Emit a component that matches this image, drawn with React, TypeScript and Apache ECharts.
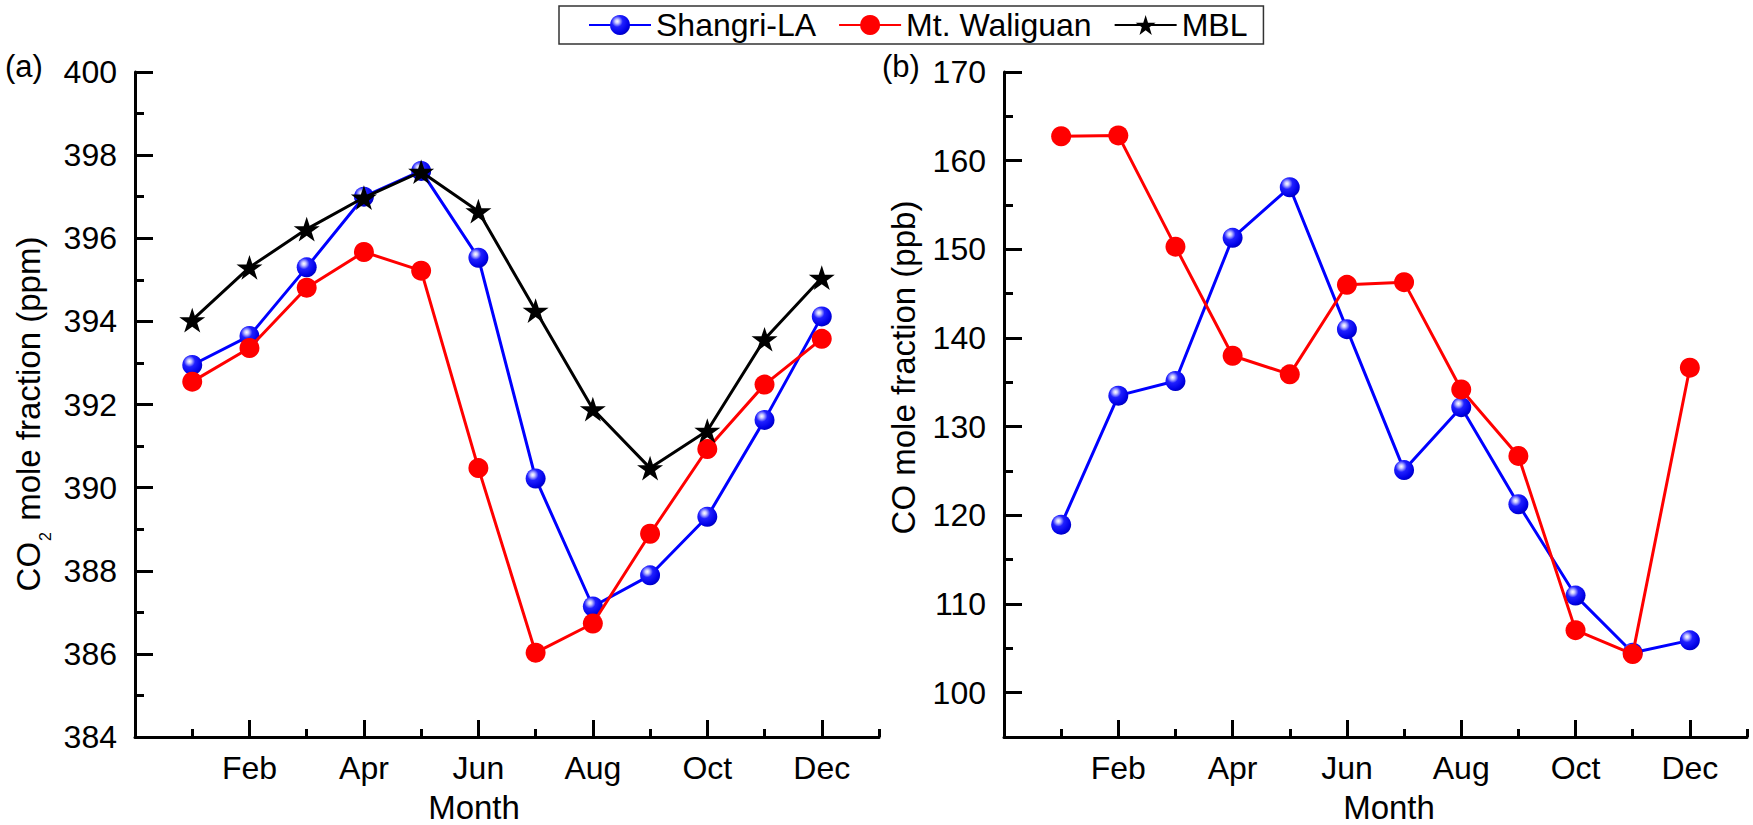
import React, { useEffect, useRef } from 'react';
import * as echarts from 'echarts';

// ---------- data ----------
const monthTicks = ['', 'Jan', 'Feb', 'Mar', 'Apr', 'May', 'Jun', 'Jul', 'Aug', 'Sep', 'Oct', 'Nov', 'Dec', ''];
const months = [1, 2, 3, 4, 5, 6, 7, 8, 9, 10, 11, 12];
const seriesNames = ['Shangri-LA', 'Mt. Waliguan', 'MBL'];

const co2Shangri = [392.95, 393.65, 395.3, 397.0, 397.62, 395.53, 390.22, 387.14, 387.89, 389.3, 391.63, 394.12];
const co2Waliguan = [392.55, 393.36, 394.81, 395.67, 395.22, 390.47, 386.03, 386.73, 388.89, 390.93, 392.48, 393.58];
const co2MBL = [394.03, 395.3, 396.22, 396.98, 397.6, 396.65, 394.26, 391.89, 390.47, 391.37, 393.57, 395.05];

const coShangri = [118.95, 133.5, 135.15, 151.3, 157.0, 141.0, 125.1, 132.2, 121.25, 110.95, 104.5, 105.9];
const coWaliguan = [162.75, 162.85, 150.3, 138.0, 135.9, 146.0, 146.3, 134.2, 126.7, 107.05, 104.35, 136.65];

const co2Min = 384;
const co2Max = 400;
const coMin = 95;
const coMax = 170;

// ---------- helpers ----------
const FONT = "'Liberation Sans', Arial, Helvetica, sans-serif";
const STAR =
  'path://M50,0 L61.23,34.55 L97.55,34.55 L68.17,55.9 L79.39,90.45 L50,69.1 L20.61,90.45 L31.83,55.9 L2.45,34.55 L38.77,34.55 Z';

const pairs = (vals: number[]) => months.map((m, i) => [m, vals[i]]);

const blk = { color: '#000', width: 3 };

function mainX(g: number) {
  return {
    type: 'category',
    gridIndex: g,
    data: monthTicks,
    boundaryGap: false,
    position: 'bottom',
    axisLine: { show: true, onZero: false, lineStyle: blk },
    axisTick: {
      show: true,
      inside: true,
      length: 17,
      interval: (i: number) => i % 2 === 0 && i < 13,
      lineStyle: blk,
    },
    axisLabel: {
      interval: (i: number) => i % 2 === 0,
      margin: 15,
      color: '#000',
      fontSize: 32,
      fontFamily: FONT,
    },
    splitLine: { show: false },
  };
}

function minorX(g: number) {
  return {
    type: 'category',
    gridIndex: g,
    data: monthTicks,
    boundaryGap: false,
    position: 'bottom',
    axisLine: { show: false, onZero: false },
    axisTick: { show: true, inside: true, length: 8, interval: 0, lineStyle: blk },
    axisLabel: { show: false },
    splitLine: { show: false },
  };
}

export default function App() {
  const ref = useRef<HTMLDivElement>(null);

  useEffect(() => {
    document.body.style.margin = '0';
    if (!ref.current) return;
    const chart = echarts.init(ref.current, undefined, { renderer: 'svg' });

    const sphere = new echarts.graphic.RadialGradient(0.36, 0.32, 0.7, [
      { offset: 0, color: '#ffffff' },
      { offset: 0.14, color: '#c8c8ff' },
      { offset: 0.4, color: '#2020ff' },
      { offset: 0.85, color: '#0000e6' },
      { offset: 1, color: '#0000c0' },
    ]);

    const blueS = (x: number, y: number, vals: number[]) => ({
      name: seriesNames[0],
      type: 'line',
      xAxisIndex: x,
      yAxisIndex: y,
      data: pairs(vals),
      symbol: 'circle',
      symbolSize: 20,
      lineStyle: { color: '#0000ff', width: 3 },
      itemStyle: { color: sphere, borderWidth: 0 },
      z: 2,
    });
    const redS = (x: number, y: number, vals: number[]) => ({
      name: seriesNames[1],
      type: 'line',
      xAxisIndex: x,
      yAxisIndex: y,
      data: pairs(vals),
      symbol: 'circle',
      symbolSize: 20,
      lineStyle: { color: '#ff0000', width: 3 },
      itemStyle: { color: '#ff0000', borderWidth: 0 },
      z: 3,
    });
    const mblS = (x: number, y: number, vals: number[]) => ({
      name: seriesNames[2],
      type: 'line',
      xAxisIndex: x,
      yAxisIndex: y,
      data: pairs(vals),
      symbol: STAR,
      symbolKeepAspect: true,
      symbolSize: 26,
      lineStyle: { color: '#000', width: 3 },
      itemStyle: { color: '#000', borderWidth: 0 },
      z: 4,
    });

    const option: any = {
      animation: false,
      backgroundColor: '#fff',
      textStyle: { fontFamily: FONT, color: '#000' },
      legend: {
        data: seriesNames,
        left: 559,
        top: 6,
        orient: 'horizontal',
        itemWidth: 62,
        itemHeight: 25,
        itemGap: 22,
        padding: [3, 16, 3, 29],
        borderColor: '#333',
        borderWidth: 1.5,
        textStyle: { fontSize: 32, fontFamily: FONT, color: '#000', lineHeight: 32 },
      },
      grid: [
        { left: 135, top: 72, width: 744, height: 665, containLabel: false },
        { left: 1004, top: 72, width: 743, height: 665, containLabel: false },
      ],
      xAxis: [mainX(0), minorX(0), mainX(1), minorX(1)],
      yAxis: [
        {
          type: 'value',
          gridIndex: 0,
          position: 'left',
          min: co2Min,
          max: co2Max,
          interval: 2,
          axisLine: { show: true, onZero: false, lineStyle: blk },
          axisTick: { show: true, inside: true, length: 18, lineStyle: blk },
          minorTick: { show: true, splitNumber: 2, length: 9, lineStyle: blk },
          axisLabel: { margin: 18, color: '#000', fontSize: 32, fontFamily: FONT },
          splitLine: { show: false },
          minorSplitLine: { show: false },
        },
        {
          type: 'value',
          gridIndex: 1,
          position: 'left',
          min: coMin,
          max: coMax,
          interval: 5,
          axisLine: { show: true, onZero: false, lineStyle: blk },
          axisTick: { show: true, inside: true, length: 9, lineStyle: blk },
          axisLabel: { show: false },
          splitLine: { show: false },
        },
        {
          // tick/label axis for CO panel: value t = coMax - CO
          type: 'value',
          gridIndex: 1,
          position: 'left',
          inverse: true,
          min: 0,
          max: coMax - coMin,
          interval: 10,
          axisLine: { show: false, onZero: false },
          axisTick: { show: true, inside: true, length: 18, lineStyle: blk },
          axisLabel: {
            margin: 18,
            color: '#000',
            fontSize: 32,
            fontFamily: FONT,
            formatter: (t: number) => (t > coMax - coMin - 1 ? '' : String(coMax - t)),
          },
          splitLine: { show: false },
        },
      ],
      series: [
        blueS(0, 0, co2Shangri),
        redS(0, 0, co2Waliguan),
        mblS(0, 0, co2MBL),
        blueS(2, 1, coShangri),
        redS(2, 1, coWaliguan),
      ],
      graphic: [
        {
          type: 'text',
          x: 5,
          y: 66,
          style: { text: '(a)', align: 'left', verticalAlign: 'middle', fill: '#000', fontSize: 31, fontFamily: FONT },
        },
        {
          type: 'text',
          x: 882,
          y: 66,
          style: { text: '(b)', align: 'left', verticalAlign: 'middle', fill: '#000', fontSize: 31, fontFamily: FONT },
        },
        {
          type: 'text',
          x: 28,
          y: 414,
          rotation: Math.PI / 2,
          style: {
            text: '{m|CO}{sub|2}{m| mole fraction (ppm)}',
            align: 'center',
            verticalAlign: 'middle',
            fill: '#000',
            fontSize: 33,
            fontFamily: FONT,
            rich: {
              m: { fontSize: 33, lineHeight: 33, verticalAlign: 'top', fontFamily: FONT, fill: '#000' },
              sub: {
                fontSize: 16,
                lineHeight: 16,
                verticalAlign: 'top',
                padding: [26, 2, 0, 1],
                fontFamily: FONT,
                fill: '#000',
              },
            },
          },
        },
        {
          type: 'text',
          x: 903.5,
          y: 367.5,
          rotation: Math.PI / 2,
          style: {
            text: 'CO mole fraction (ppb)',
            align: 'center',
            verticalAlign: 'middle',
            fill: '#000',
            fontSize: 33,
            fontFamily: FONT,
          },
        },
        {
          type: 'text',
          x: 474,
          y: 807,
          style: { text: 'Month', align: 'center', verticalAlign: 'middle', fill: '#000', fontSize: 33, fontFamily: FONT },
        },
        {
          type: 'text',
          x: 1389,
          y: 807,
          style: { text: 'Month', align: 'center', verticalAlign: 'middle', fill: '#000', fontSize: 33, fontFamily: FONT },
        },
      ],
    };

    chart.setOption(option);
    return () => chart.dispose();
  }, []);

  return (
    <div
      ref={ref}
      style={{ position: 'fixed', left: 0, top: 0, width: 1753, height: 825, background: '#fff' }}
    />
  );
}
